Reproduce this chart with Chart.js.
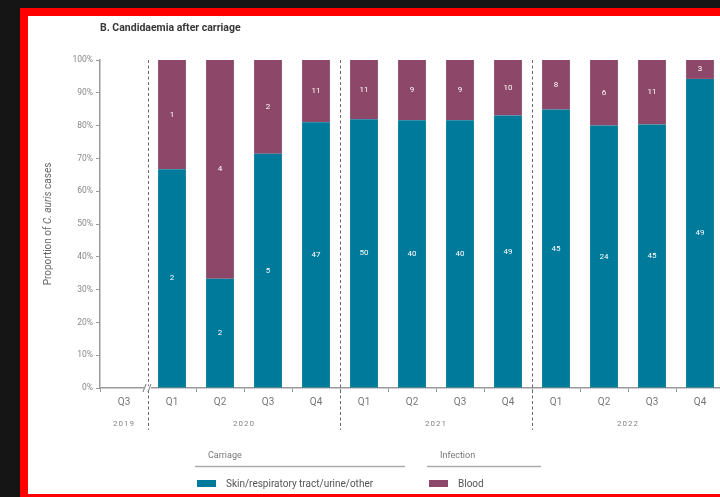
<!DOCTYPE html>
<html>
<head>
<meta charset="utf-8">
<script src="https://cdn.jsdelivr.net/npm/chart.js@4"></script>
<style>
  html, body { margin: 0; padding: 0; width: 720px; height: 497px; overflow: hidden; background: #151515; }
  .frame { position: absolute; left: 20px; top: 8px; width: 720px; height: 500px; background: #ff0000; }
  .panel { position: absolute; left: 28px; top: 16px; width: 692px; height: 478px; background: #ffffff; overflow: hidden; }
  canvas { position: absolute; left: 0; top: 0; }
</style>
</head>
<body>
<div class="frame"></div>
<div class="panel">
  <canvas id="chart" width="720" height="478"></canvas>
</div>
<script>
// quarters shown on the x axis, oldest first
const quarters = ['Q3', 'Q1', 'Q2', 'Q3', 'Q4', 'Q1', 'Q2', 'Q3', 'Q4', 'Q1', 'Q2', 'Q3', 'Q4'];

// case counts per quarter
const carriageCounts = [0, 2, 2, 5, 47, 50, 40, 40, 49, 45, 24, 45, 49];
const bloodCounts = [0, 1, 4, 2, 11, 11, 9, 9, 10, 8, 6, 11, 3];

// year groups: label plus first/last quarter index
const yearLabels = ['2019', '2020', '2021', '2022'];
const yearFirst = [0, 1, 5, 9];
const yearLast = [0, 4, 8, 12];

const yTicks = [0, 10, 20, 30, 40, 50, 60, 70, 80, 90, 100];

const TEAL = '#007a9b';
const PLUM = '#8d4869';
const AXIS = '#9a9a9a';
const FONT = 'Roboto, "Open Sans", sans-serif';

function share(part, other) {
  const total = part + other;
  return total ? (part / total) * 100 : null;
}

const carriagePct = carriageCounts.map((c, i) => share(c, bloodCounts[i]));
const bloodPct = bloodCounts.map((b, i) => share(b, carriageCounts[i]));

// extra drawing: title, y title, value labels, year separators, legend
const decorations = {
  id: 'decorations',
  afterDatasetsDraw(chart) {
    const { ctx } = chart;

    // counts inside each segment
    ctx.save();
    ctx.fillStyle = '#ffffff';
    ctx.font = '8px ' + FONT;
    ctx.textAlign = 'center';
    ctx.textBaseline = 'middle';
    chart.data.datasets.forEach((ds, di) => {
      const meta = chart.getDatasetMeta(di);
      meta.data.forEach((bar, i) => {
        const n = ds.counts[i];
        if (!n) return;
        ctx.fillText(String(n), bar.x, (bar.y + bar.base) / 2);
      });
    });
    ctx.restore();
  },
  afterDraw(chart) {
    const { ctx, chartArea, scales } = chart;
    const x = scales.x;
    const half = (x.getPixelForValue(1) - x.getPixelForValue(0)) / 2;

    ctx.save();

    // chart title
    ctx.fillStyle = '#383838';
    ctx.font = 'bold 10.5px ' + FONT;
    ctx.textAlign = 'left';
    ctx.textBaseline = 'middle';
    ctx.fillText('B. Candidaemia after carriage', 72, 12);

    // y axis title with italic species name
    ctx.save();
    ctx.translate(20, (chartArea.top + chartArea.bottom) / 2);
    ctx.rotate(-Math.PI / 2);
    ctx.fillStyle = '#666666';
    const parts = [['Proportion of ', 'normal'], ['C. auris', 'italic'], [' cases', 'normal']];
    let total = 0;
    parts.forEach(p => { ctx.font = p[1] + ' 10px ' + FONT; total += ctx.measureText(p[0]).width; });
    let cx = -total / 2;
    ctx.textAlign = 'left';
    parts.forEach(p => {
      ctx.font = p[1] + ' 10px ' + FONT;
      ctx.fillText(p[0], cx, 0);
      cx += ctx.measureText(p[0]).width;
    });
    ctx.restore();

    // dashed separators between years
    ctx.strokeStyle = '#6a6a6a';
    ctx.lineWidth = 1;
    ctx.setLineDash([3, 2.5]);
    yearLast.slice(0, -1).forEach(last => {
      const sx = Math.round(x.getPixelForValue(last) + half) + 0.5;
      ctx.beginPath();
      ctx.moveTo(sx, chartArea.top);
      ctx.lineTo(sx, chartArea.bottom + 42);
      ctx.stroke();
    });
    ctx.setLineDash([]);

    // axis break after the first quarter
    const bx = x.getPixelForValue(0) + half;
    const by = chartArea.bottom;
    ctx.fillStyle = '#ffffff';
    ctx.fillRect(bx - 4, by - 2, 7, 5);
    ctx.strokeStyle = '#777777';
    ctx.beginPath();
    ctx.moveTo(bx - 5, by + 4); ctx.lineTo(bx - 2, by - 4);
    ctx.moveTo(bx + 0, by + 4); ctx.lineTo(bx + 3, by - 4);
    ctx.stroke();

    // year labels under the quarter labels
    ctx.fillStyle = '#858585';
    ctx.font = '8px ' + FONT;
    ctx.letterSpacing = '1px';
    ctx.textAlign = 'center';
    yearLabels.forEach((yr, i) => {
      const mid = (x.getPixelForValue(yearFirst[i]) + x.getPixelForValue(yearLast[i])) / 2;
      ctx.fillText(yr, mid, chartArea.bottom + 36);
    });
    ctx.letterSpacing = '0px';

    // grouped legend
    const groups = [
      { head: 'Carriage', x0: 167, x1: 377, ds: 0 },
      { head: 'Infection', x0: 399, x1: 513, ds: 1 }
    ];
    groups.forEach(g => {
      const ds = chart.data.datasets[g.ds];
      ctx.fillStyle = '#777777';
      ctx.font = '9px ' + FONT;
      ctx.textAlign = 'left';
      ctx.fillText(g.head, g.x0 + 13, 440);
      ctx.strokeStyle = '#aaaaaa';
      ctx.lineWidth = 1.5;
      ctx.beginPath();
      ctx.moveTo(g.x0, 450.5);
      ctx.lineTo(g.x1, 450.5);
      ctx.stroke();
      ctx.fillStyle = ds.backgroundColor;
      ctx.fillRect(g.x0 + 2, 464, 19, 7);
      ctx.fillStyle = '#555555';
      ctx.font = '10px ' + FONT;
      ctx.fillText(ds.label, g.x0 + 31, 468);
    });

    ctx.restore();
  }
};

new Chart(document.getElementById('chart'), {
  type: 'bar',
  data: {
    labels: quarters,
    datasets: [
      {
        label: 'Skin/respiratory tract/urine/other',
        data: carriagePct,
        counts: carriageCounts,
        backgroundColor: TEAL,
        categoryPercentage: 1,
        barPercentage: 0.58
      },
      {
        label: 'Blood',
        data: bloodPct,
        counts: bloodCounts,
        backgroundColor: PLUM,
        categoryPercentage: 1,
        barPercentage: 0.58
      }
    ]
  },
  options: {
    responsive: false,
    devicePixelRatio: 1,
    animation: false,
    layout: { padding: { top: 44, right: 24, bottom: 0, left: 0 } },
    plugins: {
      legend: { display: false },
      tooltip: { enabled: false },
      title: { display: false }
    },
    scales: {
      x: {
        stacked: true,
        grid: { offset: true, drawOnChartArea: false, drawTicks: true, tickLength: 4, color: AXIS },
        border: { display: true, color: AXIS, width: 1.5 },
        ticks: { color: '#777777', font: { family: FONT, size: 10 }, padding: 4, maxRotation: 0, autoSkip: false },
        afterFit(scale) { scale.height = 106; }
      },
      y: {
        stacked: true,
        min: 0,
        max: 100,
        afterBuildTicks(scale) { scale.ticks = yTicks.map(v => ({ value: v })); },
        grid: { drawOnChartArea: false, drawTicks: true, tickLength: 4, color: AXIS },
        border: { display: true, color: AXIS, width: 1.5 },
        ticks: {
          color: '#888888',
          font: { family: FONT, size: 8.5 },
          padding: 3,
          callback: v => v + '%'
        },
        afterFit(scale) { scale.width = 72; }
      }
    }
  },
  plugins: [decorations]
});
</script>
</body>
</html>
